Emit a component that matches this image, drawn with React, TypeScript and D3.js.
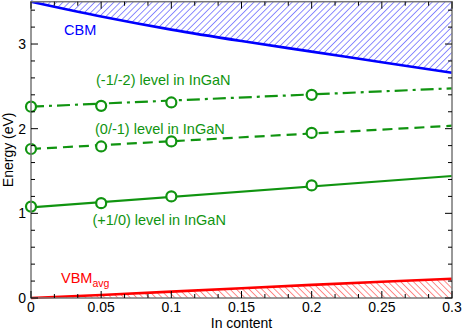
import * as d3 from 'd3'
import React from 'react'

const W = 463
const H = 330
const margin = { top: 1.7, right: 11, bottom: 32, left: 31 }

// In content where the defect levels were computed
const inContent = [0, 0.05, 0.1, 0.2]
const levelM1M2 = [2.26, 2.27, 2.31, 2.4]
const level0M1 = [1.76, 1.79, 1.85, 1.95]
const levelP10 = [1.08, 1.12, 1.2, 1.33]

// linear fits drawn across the whole range
const fitX = [0, 0.3]
const fitM1M2 = [2.26, 2.477]
const fit0M1 = [1.76, 2.035]
const fitP10 = [1.07, 1.441]

// band edges
const bandX = [0, 0.05, 0.1, 0.15, 0.2, 0.25, 0.3]
const cbm = [3.5, 3.325, 3.17, 3.035, 2.91, 2.785, 2.66]
const vbm = [0, 0.036, 0.075, 0.115, 0.155, 0.192, 0.228]

const xTicks = [0, 0.05, 0.1, 0.15, 0.2, 0.25, 0.3]
const yTicks = [0, 1, 2, 3]

const GREEN = '#109410'
const FONT = 'Liberation Sans, Arial, Helvetica, sans-serif'

export default function App() {
  const iw = W - margin.left - margin.right
  const ih = H - margin.top - margin.bottom
  const x = d3.scaleLinear().domain([0, 0.3]).range([0, iw])
  const y = d3.scaleLinear().domain([0, 3.5]).range([ih, 0])

  const smooth = d3
    .line<[number, number]>()
    .x(d => x(d[0]))
    .y(d => y(d[1]))
    .curve(d3.curveMonotoneX)
  const straight = d3
    .line<[number, number]>()
    .x(d => x(d[0]))
    .y(d => y(d[1]))

  const cbmPts = bandX.map((v, i) => [v, cbm[i]] as [number, number])
  const vbmPts = bandX.map((v, i) => [v, vbm[i]] as [number, number])

  const cbmArea = d3
    .area<[number, number]>()
    .x(d => x(d[0]))
    .y0(() => y(3.5))
    .y1(d => y(d[1]))
    .curve(d3.curveMonotoneX)
  const vbmArea = d3
    .area<[number, number]>()
    .x(d => x(d[0]))
    .y0(() => y(0))
    .y1(d => y(d[1]))

  const xMinor = d3.range(0, 0.3001, 0.05 / 3).filter(v => !xTicks.some(t => Math.abs(t - v) < 1e-6))
  const yMinor = d3.range(0, 3.5001, 0.2).filter(v => !yTicks.some(t => Math.abs(t - v) < 1e-6))

  const series = [
    { vals: levelM1M2, fit: fitM1M2, dash: '13,5,3,5' },
    { vals: level0M1, fit: fit0M1, dash: '10,6' },
    { vals: levelP10, fit: fitP10, dash: null },
  ]

  return (
    <svg width={W} height={H} style={{ position: 'absolute', left: 0, top: 0 }} fontFamily={FONT}>
      <defs>
        <pattern id="hatchBlue" patternUnits="userSpaceOnUse" width={4.5} height={4.5} patternTransform="rotate(45)">
          <line x1={0} y1={0} x2={0} y2={4.5} stroke="#3030ff" strokeWidth={1.1} />
        </pattern>
        <pattern id="hatchRed" patternUnits="userSpaceOnUse" width={4.5} height={4.5} patternTransform="rotate(-45)">
          <line x1={0} y1={0} x2={0} y2={4.5} stroke="#ff3030" strokeWidth={1.1} />
        </pattern>
      </defs>
      <rect width={W} height={H} fill="#fff" />
      <g transform={`translate(${margin.left},${margin.top})`}>
        <path d={cbmArea(cbmPts) || ''} fill="url(#hatchBlue)" />
        <path d={vbmArea(vbmPts) || ''} fill="url(#hatchRed)" />
        <path d={smooth(cbmPts) || ''} fill="none" stroke="#0000ff" strokeWidth={2.6} />
        <path d={straight(vbmPts) || ''} fill="none" stroke="#ff0000" strokeWidth={2.6} />

        {series.map((s, i) => (
          <g key={i}>
            <path
              d={straight(s.fit.map((v, j) => [fitX[j], v] as [number, number])) || ''}
              fill="none"
              stroke={GREEN}
              strokeWidth={2.2}
              strokeDasharray={s.dash || undefined}
            />
            {inContent.map((v, j) => (
              <circle key={j} cx={x(v)} cy={y(s.vals[j])} r={5} fill="#fff" stroke={GREEN} strokeWidth={2.2} />
            ))}
          </g>
        ))}

        {/* frame */}
        <rect x={0} y={0} width={iw} height={ih} fill="none" stroke="#777" strokeWidth={1.5} />

        {/* ticks */}
        {xTicks.map(t => (
          <g key={'xt' + t}>
            <line x1={x(t)} x2={x(t)} y1={ih} y2={ih - 7} stroke="#000" />
            <line x1={x(t)} x2={x(t)} y1={0} y2={7} stroke="#000" />
            <text x={x(t)} y={ih + 14.5} textAnchor="middle" fontSize={14}>
              {String(t)}
            </text>
          </g>
        ))}
        {xMinor.map(t => (
          <g key={'xm' + t}>
            <line x1={x(t)} x2={x(t)} y1={ih} y2={ih - 4} stroke="#000" />
            <line x1={x(t)} x2={x(t)} y1={0} y2={4} stroke="#000" />
          </g>
        ))}
        {yTicks.map(t => (
          <g key={'yt' + t}>
            <line x1={0} x2={7} y1={y(t)} y2={y(t)} stroke="#000" />
            <line x1={iw} x2={iw - 7} y1={y(t)} y2={y(t)} stroke="#000" />
            <text x={-5} y={y(t) + 5} textAnchor="end" fontSize={14}>
              {t}
            </text>
          </g>
        ))}
        {yMinor.map(t => (
          <g key={'ym' + t}>
            <line x1={0} x2={4} y1={y(t)} y2={y(t)} stroke="#000" />
            <line x1={iw} x2={iw - 4} y1={y(t)} y2={y(t)} stroke="#000" />
          </g>
        ))}

        {/* annotations */}
        <text x={33} y={33.3} fill="#0000ff" fontSize={14.5}>
          CBM
        </text>
        <text x={65} y={83.8} fill={GREEN} fontSize={14.5}>
          (-1/-2) level in InGaN
        </text>
        <text x={64} y={132.8} fill={GREEN} fontSize={14.5}>
          (0/-1) level in InGaN
        </text>
        <text x={61.5} y={223.3} fill={GREEN} fontSize={14.5}>
          (+1/0) level in InGaN
        </text>
        <text x={30} y={281.6} fill="#ff0000" fontSize={14.5}>
          VBM
          <tspan fontSize={10.5} dy={4}>
            avg
          </tspan>
        </text>
      </g>
      <text x={margin.left + iw / 2} y={H - 2} textAnchor="middle" fontSize={14}>
        In content
      </text>
      <text transform={`translate(13,${margin.top + ih / 2}) rotate(-90)`} textAnchor="middle" fontSize={14}>
        Energy (eV)
      </text>
    </svg>
  )
}
